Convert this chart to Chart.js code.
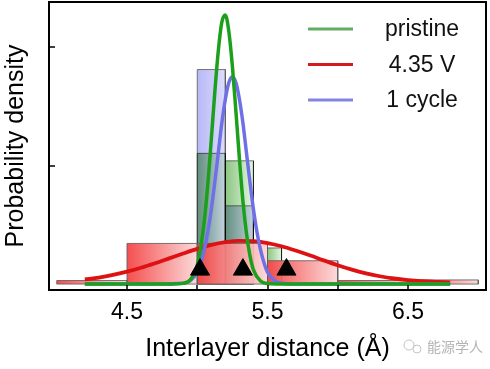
<!DOCTYPE html>
<html>
<head>
<meta charset="utf-8">
<script src="https://cdn.jsdelivr.net/npm/chart.js@4.4.1/dist/chart.umd.min.js"></script>
<style>
  html, body { margin: 0; padding: 0; background: #fff; }
</style>
</head>
<body>
<canvas id="chart" width="490" height="369"></canvas>
<script>
// histogram bins (Å) and heights
const chargedBinStart = [4.0, 4.5, 5.0, 5.5, 6.0, 6.5];
const chargedBinEnd = [4.5, 5.0, 5.5, 6.0, 6.5, 7.0];
const chargedBinHeight = [0.03, 0.343, 0.343, 0.197, 0.03, 0.035];

const pristineBinStart = [5.0, 5.2, 5.5];
const pristineBinEnd = [5.2, 5.4, 5.6];
const pristineBinHeight = [1.103, 1.04, 0.305];

const cycleBinStart = [5.0, 5.2];
const cycleBinEnd = [5.2, 5.4];
const cycleBinHeight = [1.81, 0.66];

// fitted curves
const pristineX = [4.2, 4.6, 4.8, 4.9, 4.95, 5.0, 5.025, 5.05, 5.075, 5.1, 5.125, 5.15, 5.175, 5.2, 5.225, 5.25, 5.275, 5.3, 5.325, 5.35, 5.375, 5.4, 5.45, 5.5, 5.6, 6.0, 6.4, 6.8];
const pristineY = [0, 0, 0.001, 0.006, 0.035, 0.16, 0.31, 0.53, 0.84, 1.22, 1.62, 1.97, 2.21, 2.27, 2.13, 1.84, 1.46, 1.06, 0.70, 0.43, 0.24, 0.12, 0.025, 0.004, 0, 0, 0, 0];

const cycleX = [4.2, 4.7, 4.9, 4.95, 5.0, 5.025, 5.05, 5.075, 5.1, 5.125, 5.15, 5.175, 5.2, 5.225, 5.25, 5.275, 5.3, 5.325, 5.35, 5.375, 5.4, 5.425, 5.45, 5.475, 5.5, 5.55, 5.6, 5.7, 6.0, 6.8];
const cycleY = [0, 0, 0.007, 0.03, 0.10, 0.18, 0.29, 0.44, 0.63, 0.86, 1.11, 1.36, 1.56, 1.70, 1.75, 1.70, 1.56, 1.36, 1.11, 0.86, 0.63, 0.44, 0.29, 0.18, 0.10, 0.03, 0.007, 0, 0, 0];

const chargedX = [4.2, 4.3, 4.4, 4.5, 4.6, 4.7, 4.8, 4.9, 5.0, 5.1, 5.2, 5.3, 5.4, 5.5, 5.6, 5.7, 5.8, 5.9, 6.0, 6.1, 6.2, 6.3, 6.4, 6.5, 6.6, 6.7, 6.8];
const chargedY = [0.040, 0.055, 0.077, 0.105, 0.138, 0.176, 0.217, 0.258, 0.297, 0.330, 0.353, 0.364, 0.362, 0.346, 0.319, 0.283, 0.243, 0.200, 0.159, 0.122, 0.091, 0.066, 0.047, 0.034, 0.025, 0.019, 0.015];

// mean positions (triangles)
const markerX = [5.02, 5.325, 5.635];
const markerY = [0.122, 0.122, 0.122];

const xTickValues = [4.5, 5.0, 5.5, 6.0, 6.5];
const xTickLabels = ['4.5', '', '5.5', '', '6.5'];
const yTickValues = [1, 2];

const legendLabels = ['pristine', '4.35 V', '1 cycle'];

const FONT = '"Liberation Sans", Arial, sans-serif';

function fade(chart, x0, x1, from, to) {
  const xs = chart.scales.x;
  if (!xs || !chart.chartArea) return from;
  const g = chart.ctx.createLinearGradient(xs.getPixelForValue(x0), 0, xs.getPixelForValue(x1), 0);
  g.addColorStop(0, from);
  g.addColorStop(1, to);
  return g;
}

function binDatasets(starts, ends, heights, from, to, order, blend) {
  return starts.map((x0, i) => {
    const x1 = ends[i], h = heights[i];
    return {
      type: 'line',
      data: [{x: x0, y: 0}, {x: x0, y: h}, {x: x1, y: h}, {x: x1, y: 0}, {x: x0, y: 0}],
      borderColor: 'rgba(95,95,95,0.85)',
      borderWidth: 1,
      backgroundColor: c => fade(c.chart, x0, x1, from, to),
      fill: 'shape',
      tension: 0,
      pointRadius: 0,
      order,
      blend
    };
  });
}

function curve(xs, ys, color, width, order) {
  return {
    type: 'line',
    data: xs.map((x, i) => ({x, y: ys[i]})),
    borderColor: color,
    borderWidth: width,
    fill: false,
    pointRadius: 0,
    cubicInterpolationMode: 'monotone',
    order
  };
}

const datasets = [
  ...binDatasets(cycleBinStart, cycleBinEnd, cycleBinHeight, 'rgb(184,184,248)', 'rgb(220,220,252)', 7),
  ...binDatasets(pristineBinStart, pristineBinEnd, pristineBinHeight, 'rgb(138,198,128)', 'rgb(228,244,226)', 6, 'multiply'),
  ...binDatasets(chargedBinStart, chargedBinEnd, chargedBinHeight, 'rgba(244,68,68,0.94)', 'rgba(252,216,216,0.94)', 5),
  curve(chargedX, chargedY, 'rgb(222,18,18)', 3.8, 4),
  curve(cycleX, cycleY, 'rgb(112,112,230)', 3.5, 3),
  curve(pristineX, pristineY, 'rgb(28,160,28)', 3.5, 2),
  {
    type: 'scatter',
    data: markerX.map((x, i) => ({x, y: markerY[i]})),
    pointStyle: 'triangle',
    pointRadius: 11,
    backgroundColor: '#000',
    borderColor: '#000',
    borderWidth: 1,
    order: 1
  }
];

// green bins are multiplied onto what is under them; the filler draws in
// beforeDatasetDraw so the mode is set once the previous dataset is done
function setBlend(chart, meta) {
  const blend = meta && chart.data.datasets[meta.index].blend;
  chart.ctx.globalCompositeOperation = blend || 'source-over';
}
const blendPlugin = {
  id: 'blend',
  beforeDatasetsDraw(chart) {
    const metas = chart.getSortedVisibleDatasetMetas();
    setBlend(chart, metas[metas.length - 1]);
  },
  afterDatasetDraw(chart, args) {
    const metas = chart.getSortedVisibleDatasetMetas();
    setBlend(chart, metas[metas.indexOf(args.meta) - 1]);
  },
  afterDatasetsDraw(chart) {
    chart.ctx.globalCompositeOperation = 'source-over';
  }
};

const framePlugin = {
  id: 'frame',
  afterDatasetsDraw(chart) {
    const {ctx, chartArea: a, scales: {x, y}} = chart;
    ctx.save();
    ctx.strokeStyle = '#000';
    ctx.lineWidth = 2;
    ctx.strokeRect(a.left, a.top, a.right - a.left, a.bottom - a.top);
    ctx.lineWidth = 1.5;
    ctx.beginPath();
    x.ticks.forEach(t => {
      const px = Math.round(x.getPixelForValue(t.value));
      ctx.moveTo(px, a.bottom);
      ctx.lineTo(px, a.bottom - 5);
    });
    y.ticks.forEach(t => {
      const py = Math.round(y.getPixelForValue(t.value));
      ctx.moveTo(a.left, py);
      ctx.lineTo(a.left + 6, py);
    });
    ctx.stroke();
    ctx.restore();
  }
};

const legendColors = ['rgb(100,172,100)', 'rgb(212,26,26)', 'rgb(132,132,228)'];
const legendPlugin = {
  id: 'insideLegend',
  afterDraw(chart) {
    const ctx = chart.ctx;
    ctx.save();
    legendLabels.forEach((label, i) => {
      const yy = 29 + i * 35.5;
      ctx.strokeStyle = legendColors[i];
      ctx.lineWidth = 3;
      ctx.beginPath();
      ctx.moveTo(308, yy);
      ctx.lineTo(353, yy);
      ctx.stroke();
      ctx.fillStyle = '#111';
      ctx.font = '23px ' + FONT;
      ctx.textAlign = 'center';
      ctx.textBaseline = 'middle';
      ctx.fillText(label, 422, yy + 1);
    });
    // watermark
    ctx.fillStyle = '#b4b4b4';
    ctx.font = '14px "Noto Sans CJK SC", sans-serif';
    ctx.textAlign = 'left';
    ctx.fillText('能源学人', 427, 347);
    ctx.strokeStyle = '#c4c4c4';
    ctx.lineWidth = 1;
    ctx.beginPath();
    ctx.arc(409, 345, 5, 0, Math.PI * 2);
    ctx.moveTo(421, 349);
    ctx.arc(417, 349, 4, 0, Math.PI * 2);
    ctx.stroke();
    ctx.restore();
  }
};

new Chart(document.getElementById('chart'), {
  type: 'line',
  data: { datasets },
  options: {
    responsive: false,
    animation: false,
    events: [],
    layout: { autoPadding: false, padding: { top: 2, right: 4, left: 0, bottom: 0 } },
    plugins: { legend: { display: false }, tooltip: { enabled: false } },
    scales: {
      x: {
        type: 'linear',
        min: 3.945,
        max: 7.055,
        afterBuildTicks: s => { s.ticks = xTickValues.map(v => ({value: v})); },
        afterFit: s => { s.height = 79; },
        grid: { display: false, drawTicks: false },
        border: { display: false },
        ticks: {
          autoSkip: false,
          maxRotation: 0,
          padding: 9,
          color: '#000',
          font: { family: FONT, size: 23 },
          callback: (v, i) => xTickLabels[i]
        },
        title: {
          display: true,
          text: 'Interlayer distance (Å)',
          color: '#000',
          font: { family: FONT, size: 25, lineHeight: 1.2 },
          padding: { top: 0, bottom: 5 }
        }
      },
      y: {
        type: 'linear',
        min: -0.05,
        max: 2.38,
        afterBuildTicks: s => { s.ticks = yTickValues.map(v => ({value: v})); },
        afterFit: s => { s.width = 49; },
        grid: { display: false, drawTicks: false },
        border: { display: false },
        ticks: { display: false },
        title: {
          display: true,
          text: 'Probability density',
          color: '#000',
          font: { family: FONT, size: 25, lineHeight: 1.2 },
          padding: { top: 1, bottom: 0 }
        }
      }
    }
  },
  plugins: [blendPlugin, framePlugin, legendPlugin]
});
</script>
</body>
</html>
